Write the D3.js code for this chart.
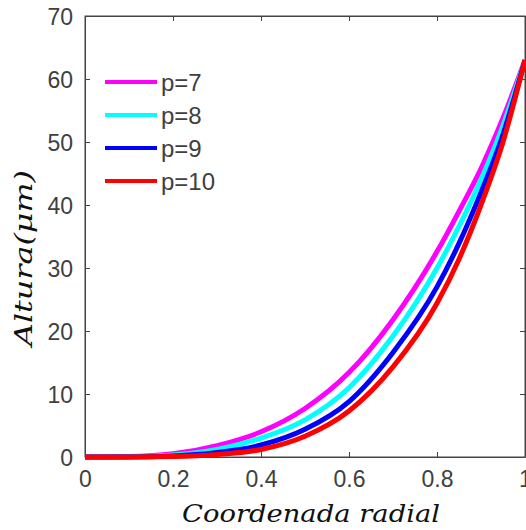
<!DOCTYPE html>
<html>
<head>
<meta charset="utf-8">
<script src="https://cdn.jsdelivr.net/npm/d3@7"></script>
<style>
  html, body { margin: 0; padding: 0; background: #fff; }
  svg { display: block; }
</style>
</head>
<body>
<script>
// ---- data ----
const xs       = [0, 0.1, 0.2, 0.3, 0.4, 0.5, 0.6, 0.7, 0.8, 0.85, 0.9, 0.95, 1.0];
const p7       = [0, 0.06, 0.5, 1.8, 4.0, 7.7, 13.4, 21.8, 32.6, 39.0, 45.8, 53.8, 63];
const p8       = [0, 0.03, 0.3, 1.2, 3.0, 5.9, 11.0, 19.2, 30.0, 36.6, 44.0, 52.6, 63];
const p9       = [0, 0.01, 0.15, 0.7, 1.9, 4.4, 8.8, 16.6, 27.0, 33.9, 42.0, 51.2, 63];
const p10      = [0, 0.005, 0.08, 0.4, 1.2, 3.3, 7.3, 14.3, 24.4, 31.4, 40.0, 50.0, 63];
const seriesNames  = ["p=7", "p=8", "p=9", "p=10"];
const seriesColors = ["#ff00ff", "#00ffff", "#0000ff", "#ff0000"];
const xTicks = [0, 0.2, 0.4, 0.6, 0.8, 1];
const yTicks = [0, 10, 20, 30, 40, 50, 60, 70];
const xLabel = "Coordenada radial";
const yLabel = "Altura(μm)";

(function () {
const W = 526, H = 530;
const mLeft = 85, mRight = 525, mTop = 16, mBottom = 457;

const svg = d3.select("body").append("svg").attr("width", W).attr("height", H);

const x = d3.scaleLinear().domain([0, 1]).range([mLeft, mRight]);
const y = d3.scaleLinear().domain([0, 70]).range([mBottom, mTop]);

const axisColor = "#444";
const textColor = "#404040";
const tickFont = "'Liberation Sans', Arial, sans-serif";

// box
svg.append("rect").attr("x", mLeft).attr("y", mTop)
  .attr("width", mRight - mLeft).attr("height", mBottom - mTop)
  .attr("fill", "none").attr("stroke", axisColor).attr("stroke-width", 1);

// axes via d3 (ticks inward)
const fmtX = d => d === 0 ? "0" : (d === 1 ? "1" : d3.format(".1f")(d));
const gx = svg.append("g").attr("transform", `translate(0,${mBottom})`)
  .call(d3.axisBottom(x).tickValues(xTicks).tickFormat(fmtX).tickSizeInner(-5).tickSizeOuter(0).tickPadding(14));
const gxTop = svg.append("g").attr("transform", `translate(0,${mTop})`)
  .call(d3.axisTop(x).tickValues(xTicks).tickFormat("").tickSizeInner(-5).tickSizeOuter(0));
const gy = svg.append("g").attr("transform", `translate(${mLeft},0)`)
  .call(d3.axisLeft(y).tickValues(yTicks).tickSizeInner(-5).tickSizeOuter(0).tickPadding(12));
const gyR = svg.append("g").attr("transform", `translate(${mRight},0)`)
  .call(d3.axisRight(y).tickValues(yTicks).tickFormat("").tickSizeInner(-5).tickSizeOuter(0));

[gx, gxTop, gy, gyR].forEach(g => {
  g.select(".domain").attr("stroke", axisColor);
  g.selectAll(".tick line").attr("stroke", axisColor);
  g.selectAll(".tick text").attr("fill", textColor)
    .style("font-family", tickFont).style("font-size", "23px");
});
gy.selectAll(".tick text").attr("dy", "0.36em");
gx.selectAll(".tick text").attr("dy", "0.71em");

// lines
const allSeries = [p7, p8, p9, p10];
const line = d3.line()
  .x((d, i) => x(xs[i]))
  .y(d => y(d))
  .curve(d3.curveMonotoneX);

const plot = svg.append("g");
allSeries.forEach((s, k) => {
  plot.append("path").datum(s)
    .attr("d", line)
    .attr("fill", "none")
    .attr("stroke", seriesColors[k])
    .attr("stroke-width", 5)
    .attr("stroke-linejoin", "round");
});

// legend
const legY0 = 82, legDy = 33;
seriesNames.forEach((n, k) => {
  const ly = legY0 + k * legDy;
  svg.append("line").attr("x1", 105).attr("x2", 157).attr("y1", ly).attr("y2", ly)
    .attr("stroke", seriesColors[k]).attr("stroke-width", 4);
  svg.append("text").attr("x", 161).attr("y", ly + 8.5)
    .attr("fill", textColor)
    .style("font-family", tickFont).style("font-size", "24px")
    .text(n);
});

// axis labels
const labelFont = "'DejaVu Serif', 'Liberation Serif', serif";
svg.append("text")
  .attr("x", 311).attr("y", 522)
  .attr("text-anchor", "middle")
  .attr("textLength", 258).attr("lengthAdjust", "spacingAndGlyphs")
  .style("font-family", labelFont).style("font-style", "italic").style("font-weight", "normal")
  .style("font-size", "24px")
  .attr("fill", "#111")
  .text(xLabel);

svg.append("text")
  .attr("transform", "translate(32,258) rotate(-90)")
  .attr("text-anchor", "middle")
  .attr("textLength", 176).attr("lengthAdjust", "spacingAndGlyphs")
  .style("font-family", labelFont).style("font-style", "italic").style("font-weight", "normal")
  .style("font-size", "24px")
  .attr("fill", "#111")
  .text(yLabel);
})();
</script>
</body>
</html>
